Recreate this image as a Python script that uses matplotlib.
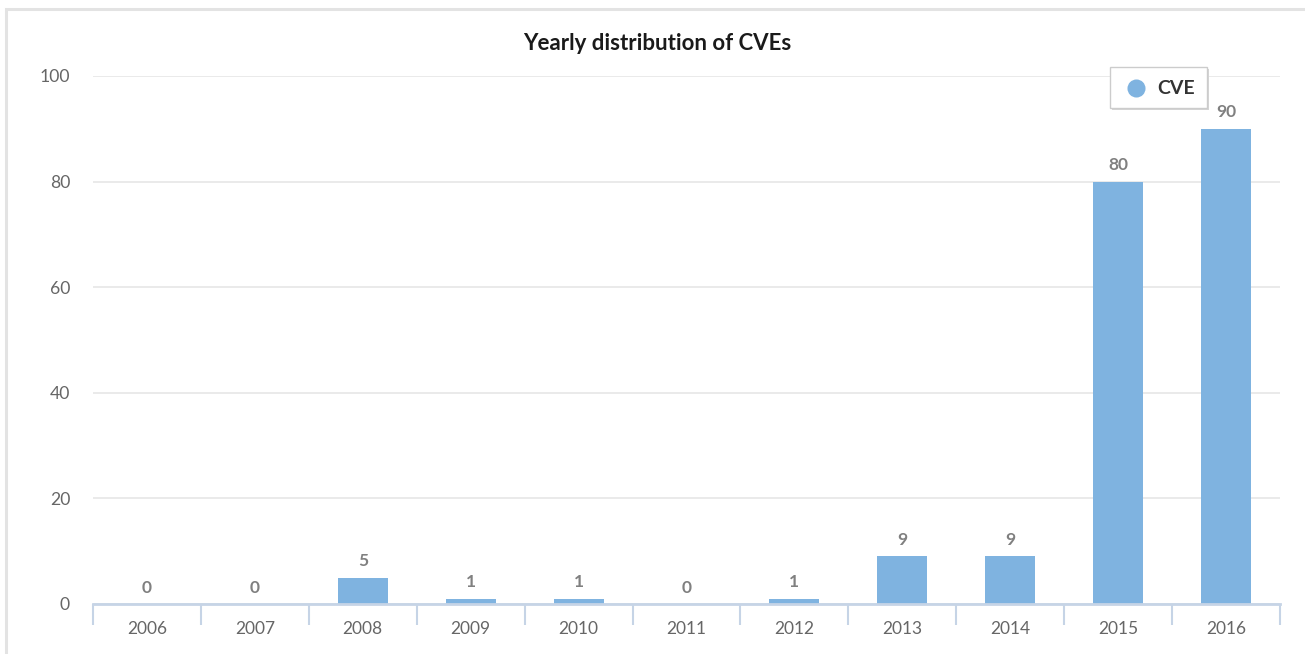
import matplotlib
matplotlib.use("Agg")
import matplotlib.pyplot as plt
from matplotlib.patches import Rectangle
from matplotlib.lines import Line2D

years = ["2006", "2007", "2008", "2009", "2010", "2011", "2012", "2013", "2014", "2015", "2016"]
cve_counts = [0, 0, 5, 1, 1, 0, 1, 9, 9, 80, 90]
y_ticks = [0, 20, 40, 60, 80, 100]
series_name = "CVE"
title = "Yearly distribution of CVEs"

plt.rcParams['font.family'] = ['Lato', 'DejaVu Sans']

W, H = 1305, 654
fig = plt.figure(figsize=(W / 100, H / 100), dpi=100)

# outer frame
fig.patches.append(Rectangle((6 / W, -0.1), 1.2, 1 - 8.5 / H + 0.1, transform=fig.transFigure,
                             fill=False, edgecolor="#e3e3e3", linewidth=2.2, zorder=0))

left, right = 93 / W, 1280 / W
bottom, top = 1 - 604 / H, 1 - 76 / H
ax = fig.add_axes([left, bottom, right - left, top - bottom])

bar_color = "#7fb3e0"
x = list(range(len(years)))
ax.bar(x, cve_counts, width=0.465, color=bar_color, zorder=2)

for xi, v in zip(x, cve_counts):
    ax.annotate(str(v), (xi, v), xytext=(0, 6), textcoords="offset points",
                ha="center", va="bottom", fontsize=12.5, fontweight="bold", color="#808080")

ax.set_xlim(-0.5, len(years) - 0.5)
ax.set_ylim(0, 100)
ax.set_yticks(y_ticks)
ax.set_yticklabels([str(t) for t in y_ticks], fontsize=12.7, color="#666666")
ax.tick_params(axis="y", length=0, pad=16.5)
ax.yaxis.grid(True, color="#e6e6e6", linewidth=1.2, zorder=0)
ax.set_axisbelow(True)

ax.set_xticks(x)
ax.set_xticklabels(years, fontsize=12.5, color="#666666")
ax.tick_params(axis="x", which="major", length=0, pad=12.5)
ax.set_xticks([i - 0.5 for i in range(len(years) + 1)], minor=True)
ax.tick_params(axis="x", which="minor", length=15, width=1.5, color="#c6d4e6", direction="out")

for s in ["top", "right", "left"]:
    ax.spines[s].set_visible(False)
ax.spines["bottom"].set_color("#c6d4e6")
ax.spines["bottom"].set_linewidth(2)
ax.spines["bottom"].set_zorder(3)

fig.text(657 / W, 1 - 43 / H, title, ha="center", va="center", fontsize=16,
         fontweight="bold", color="#1a1a1a")

# legend box with shadow
lx0, ly0, lw, lh = 1110, 67, 97, 41
fig.patches.append(Rectangle(((lx0 + 2) / W, 1 - (ly0 + lh + 2) / H), lw / W, lh / H,
                             transform=fig.transFigure, facecolor="#d5d5d5", edgecolor="none", zorder=4))
fig.patches.append(Rectangle((lx0 / W, 1 - (ly0 + lh) / H), lw / W, lh / H,
                             transform=fig.transFigure, facecolor="white", edgecolor="#cccccc",
                             linewidth=1, zorder=5))
fig.lines.append(Line2D([1136 / W], [1 - 88 / H], transform=fig.transFigure, marker="o",
                        markersize=13, color=bar_color, markeredgewidth=0, zorder=6))
fig.text(1157 / W, 1 - 88 / H, series_name, ha="left", va="center", fontsize=14,
         fontweight="bold", color="#333333", zorder=7)

fig.savefig("out.png", dpi=100)
